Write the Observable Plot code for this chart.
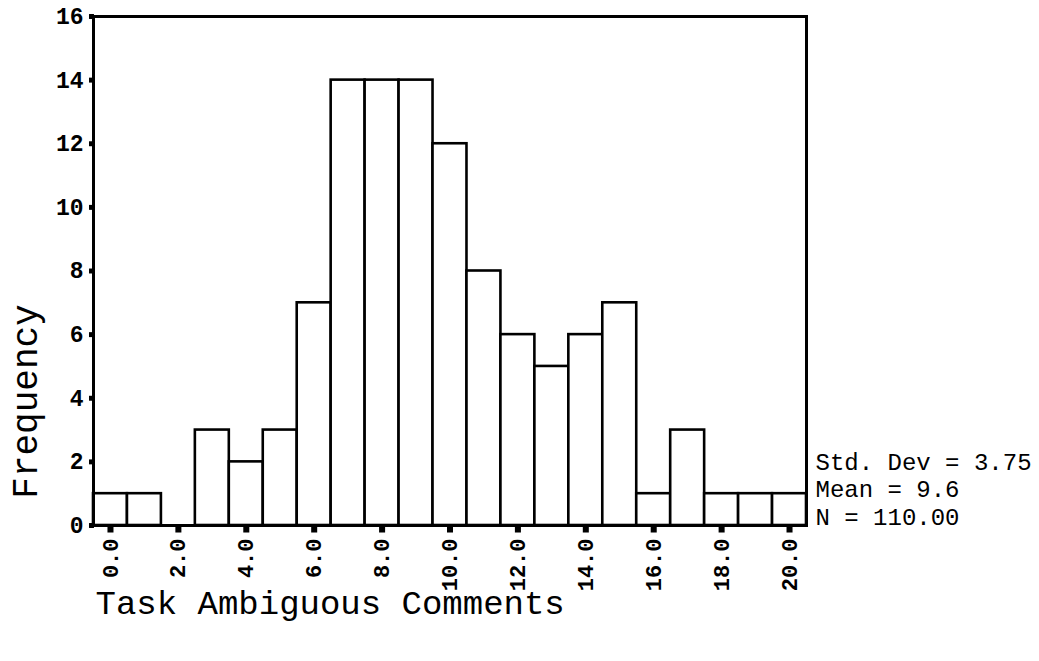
<!DOCTYPE html>
<html>
<head>
<meta charset="utf-8">
<script src="https://cdn.jsdelivr.net/npm/d3@7"></script>
<script src="https://cdn.jsdelivr.net/npm/@observablehq/plot@0.6"></script>
<style>
  html, body { margin: 0; padding: 0; background: white; }
</style>
</head>
<body>
<div id="chart"></div>
<script>
const bins = [0, 1, 2, 3, 4, 5, 6, 7, 8, 9, 10, 11, 12, 13, 14, 15, 16, 17, 18, 19, 20];
const counts = [1, 1, 0, 3, 2, 3, 7, 14, 14, 14, 12, 8, 6, 5, 6, 7, 1, 3, 1, 1, 1];
const xTicks = [0, 2, 4, 6, 8, 10, 12, 14, 16, 18, 20];
const yTicks = [0, 2, 4, 6, 8, 10, 12, 14, 16];
const xTitle = "Task Ambiguous Comments";
const yTitle = "Frequency";
const statsLines = ["Std. Dev = 3.75", "Mean = 9.6", "N = 110.00"];

const data = bins.map((b, i) => ({bin: b, count: counts[i]}));
const font = "'Courier New', 'Liberation Mono', monospace";

const chart = Plot.plot({
  width: 1039,
  height: 661,
  marginLeft: 93,
  marginRight: 233,
  marginTop: 16,
  marginBottom: 136,
  x: {domain: [-0.5, 20.5]},
  y: {domain: [0, 16]},
  style: {fontFamily: font, background: "white", color: "black"},
  marks: [
    Plot.rect(data, {x1: d => d.bin - 0.5, x2: d => d.bin + 0.5, y1: 0, y2: "count",
      fill: "white", stroke: "black", strokeWidth: 2.6}),
    Plot.frame({stroke: "black", strokeWidth: 3}),
    Plot.axisY({ticks: yTicks, tickSize: 0, tickPadding: 10, fontSize: 23, fontWeight: "bold", label: null}),
    Plot.dot(yTicks, {y: d => d, frameAnchor: "left", symbol: "square", r: 2.8, dx: -2, fill: "black", stroke: null}),
    Plot.axisX({ticks: xTicks, tickFormat: d3.format(".1f"), tickRotate: -90, tickSize: 0, tickPadding: 13, fontSize: 22, fontWeight: "bold", label: null}),
    Plot.dot(xTicks, {x: d => d, frameAnchor: "bottom", symbol: "square", r: 3.4, dy: 4, fill: "black", stroke: null}),
    Plot.text([xTitle], {text: d => d, frameAnchor: "bottom-left", textAnchor: "start", lineAnchor: "middle",
      dx: 2, dy: 78, fontSize: 34}),
    Plot.text([yTitle], {text: d => d, frameAnchor: "bottom-left", textAnchor: "middle", lineAnchor: "middle",
      rotate: -90, dx: -68, dy: -124, fontSize: 36}),
    Plot.text([statsLines.join("\n")], {text: d => d, frameAnchor: "bottom-right", textAnchor: "start", lineAnchor: "middle",
      lineHeight: 1.15, dx: 9, dy: -37, fontSize: 24})
  ]
});
document.getElementById("chart").appendChild(chart);
</script>
</body>
</html>
